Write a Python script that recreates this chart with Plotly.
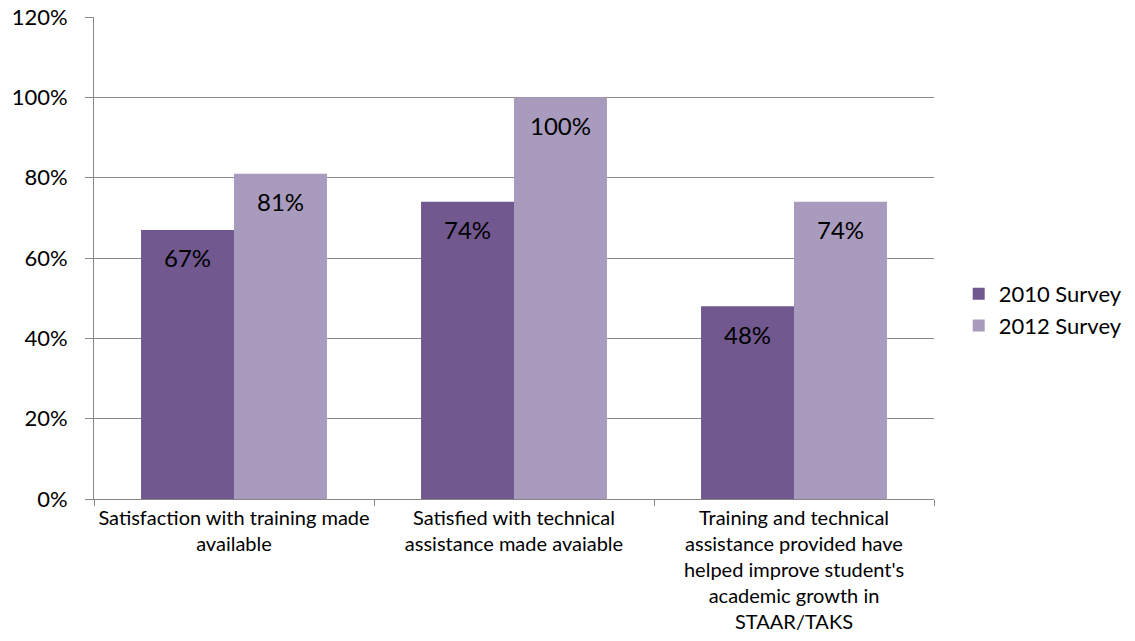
import plotly.graph_objects as go

categories = [
    "Satisfaction with training made<br>available",
    "Satisfied with technical<br>assistance made avaiable",
    "Training and technical<br>assistance provided have<br>helped improve student's<br>academic growth in<br>STAAR/TAKS",
]
survey_2010 = [0.67, 0.74, 0.48]
survey_2012 = [0.81, 1.00, 0.74]
y_ticks = [0, 0.2, 0.4, 0.6, 0.8, 1.0, 1.2]

FONT = "Lato, Calibri, Carlito, sans-serif"
DARK = "#71588F"
LIGHT = "#A99BBD"
GRID = "#888888"

fig = go.Figure()
fig.add_trace(go.Bar(name="2010 Survey", x=categories, y=survey_2010,
                     marker=dict(color=DARK, line=dict(width=0)), offsetgroup="a"))
fig.add_trace(go.Bar(name="2012 Survey", x=categories, y=survey_2012,
                     marker=dict(color=LIGHT, line=dict(width=0)), offsetgroup="b"))

# data labels just below each bar top
for i, (a, b) in enumerate(zip(survey_2010, survey_2012)):
    for val, shift in ((a, -0.166), (b, 0.166)):
        fig.add_annotation(
            x=i + shift, y=val, xref="x", yref="y",
            text=f"{val:.0%}", showarrow=False, yshift=-28,
            font=dict(family=FONT, size=24, color="#000000"),
        )

# the page's body margin offsets the figure by 8px, so size it to fit the window
fig.update_layout(
    width=1127, height=633,
    margin=dict(l=86, r=201, t=9, b=142, autoexpand=False),
    plot_bgcolor="white", paper_bgcolor="white",
    barmode="group", bargap=0.336, bargroupgap=0,
    font=dict(family=FONT, color="#000000"),
    showlegend=True,
    legend=dict(x=1.0294, y=0.392, xanchor="left", yanchor="middle",
                font=dict(family=FONT, size=22), itemwidth=30,
                tracegroupgap=0, bgcolor="rgba(0,0,0,0)"),
)
fig.update_xaxes(
    type="category", showline=True, linecolor=GRID, linewidth=1,
    ticks="outside", tickson="boundaries", ticklen=6, tickcolor=GRID,
    tickfont=dict(family=FONT, size=20), showgrid=False, tickangle=0,
    automargin=False, ticklabelstandoff=1,
)
fig.update_yaxes(
    range=[0, 1.2], tickvals=y_ticks, tickformat=".0%",
    showgrid=True, gridcolor=GRID, gridwidth=1,
    showline=True, linecolor=GRID, linewidth=1,
    ticks="outside", ticklen=8, tickcolor=GRID,
    tickfont=dict(family=FONT, size=22), zeroline=False,
    automargin=False, ticklabelstandoff=13, ticklabeloverflow="allow",
)

fig.write_html("out.html")
